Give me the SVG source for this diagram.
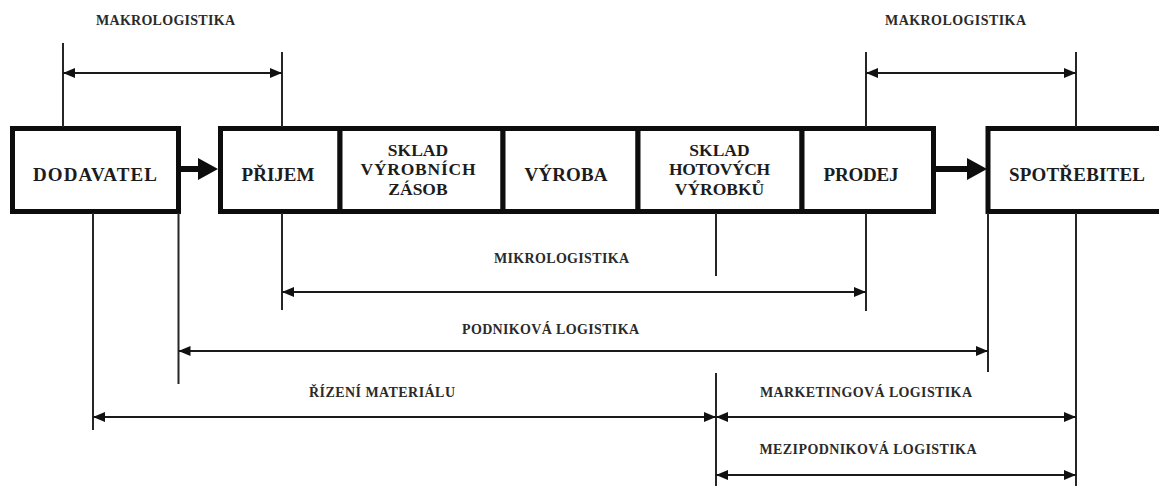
<svg xmlns="http://www.w3.org/2000/svg" width="1159" height="486" viewBox="0 0 1159 486">
  <style>
    .box { fill: #ffffff; stroke: #0d0d0d; stroke-width: 5; }
    .name { font-family: "Liberation Serif", "Times New Roman", serif; font-weight: bold; font-size: 19px; fill: #1c1c1c; text-anchor: middle; }
    .name3 { font-family: "Liberation Serif", "Times New Roman", serif; font-weight: bold; font-size: 17.5px; fill: #1c1c1c; text-anchor: middle; }
    .flow { fill: #0d0d0d; stroke: none; }
    .ext { fill: none; stroke: #262626; stroke-width: 2; }
    .dim { fill: none; stroke: #1a1a1a; stroke-width: 2; marker-start: url(#tip); marker-end: url(#tip); }
    .lbl { font-family: "Liberation Serif", "Times New Roman", serif; font-weight: bold; font-size: 14px; fill: #2a2a2a; text-anchor: middle; }
  </style>
  <defs>
    <marker id="tip" viewBox="0 0 12 10" refX="12" refY="5" markerWidth="12" markerHeight="10" markerUnits="userSpaceOnUse" orient="auto-start-reverse">
      <path d="M0,0 L12,5 L0,10 Z" fill="#111111"/>
    </marker>
  </defs>

  <rect width="1159" height="486" fill="#ffffff"/>

  <!-- supplier -->
  <g id="dodavatel">
    <rect class="box" x="12.5" y="128.5" width="166" height="83"/>
    <text class="name" x="95" y="181" textLength="124" lengthAdjust="spacing">DODAVATEL</text>
  </g>

  <!-- in-company chain -->
  <g id="prijem">
    <rect class="box" x="220.5" y="128.5" width="119.5" height="83"/>
    <text class="name" x="278" y="181" textLength="73" lengthAdjust="spacing">PŘIJEM</text>
  </g>
  <g id="sklad-vyrobnich-zasob">
    <rect class="box" x="340" y="128.5" width="163" height="83"/>
    <text class="name3" x="418" y="155.5">SKLAD</text>
    <text class="name3" x="418" y="175" textLength="115" lengthAdjust="spacing">VÝROBNÍCH</text>
    <text class="name3" x="418" y="194.5">ZÁSOB</text>
  </g>
  <g id="vyroba">
    <rect class="box" x="503" y="128.5" width="135" height="83"/>
    <text class="name" x="566" y="181" textLength="83" lengthAdjust="spacing">VÝROBA</text>
  </g>
  <g id="sklad-hotovych-vyrobku">
    <rect class="box" x="638" y="128.5" width="164" height="83"/>
    <text class="name3" x="719.5" y="155.5">SKLAD</text>
    <text class="name3" x="719.5" y="175" textLength="101" lengthAdjust="spacing">HOTOVÝCH</text>
    <text class="name3" x="719.5" y="194.5">VÝROBKŮ</text>
  </g>
  <g id="prodej">
    <rect class="box" x="802" y="128.5" width="131.5" height="83"/>
    <text class="name" x="861" y="181" textLength="75" lengthAdjust="spacing">PRODEJ</text>
  </g>

  <!-- consumer (box runs off the right edge) -->
  <g id="spotrebitel">
    <rect class="box" x="988" y="128.5" width="200" height="83"/>
    <text class="name" x="1077" y="181" textLength="136" lengthAdjust="spacing">SPOTŘEBITEL</text>
  </g>

  <!-- material flow arrows -->
  <g id="connectors">
    <path class="flow" d="M180,166 H198 V158 L218,169 L198,180 V172 H180 Z"/>
    <path class="flow" d="M935,166 H967 V158 L987,169 L967,180 V172 H935 Z"/>
  </g>

  <!-- scope brackets: extension lines, double arrows, captions -->
  <g id="scopes">
    <path class="ext" d="M63,43 V127 M282,52 V127 M866,52 V127 M1076,52 V127"/>
    <path class="ext" d="M93,213 V430 M178.5,213 V384 M282,213 V310 M716,213 V276 M866,213 V311 M988,213 V372 M1076,213 V486 M716,373 V486"/>

    <path class="dim" d="M63,73 H282"/>
    <path class="dim" d="M866,73 H1076"/>
    <path class="dim" d="M282,292 H866"/>
    <path class="dim" d="M178.5,351 H988"/>
    <path class="dim" d="M93,417 H716"/>
    <path class="dim" d="M716,417 H1076"/>
    <path class="dim" d="M716,475 H1076"/>

    <text class="lbl" x="165.5" y="24.5" textLength="139" lengthAdjust="spacing">MAKROLOGISTIKA</text>
    <text class="lbl" x="955.5" y="24.5" textLength="141" lengthAdjust="spacing">MAKROLOGISTIKA</text>
    <text class="lbl" x="561.5" y="263" textLength="135" lengthAdjust="spacing">MIKROLOGISTIKA</text>
    <text class="lbl" x="550.5" y="334" textLength="177" lengthAdjust="spacing">PODNIKOVÁ LOGISTIKA</text>
    <text class="lbl" x="382" y="396.5" textLength="146" lengthAdjust="spacing">ŘÍZENÍ MATERIÁLU</text>
    <text class="lbl" x="866" y="396.5" textLength="212" lengthAdjust="spacing">MARKETINGOVÁ LOGISTIKA</text>
    <text class="lbl" x="868" y="454" textLength="217" lengthAdjust="spacing">MEZIPODNIKOVÁ LOGISTIKA</text>
  </g>
</svg>
